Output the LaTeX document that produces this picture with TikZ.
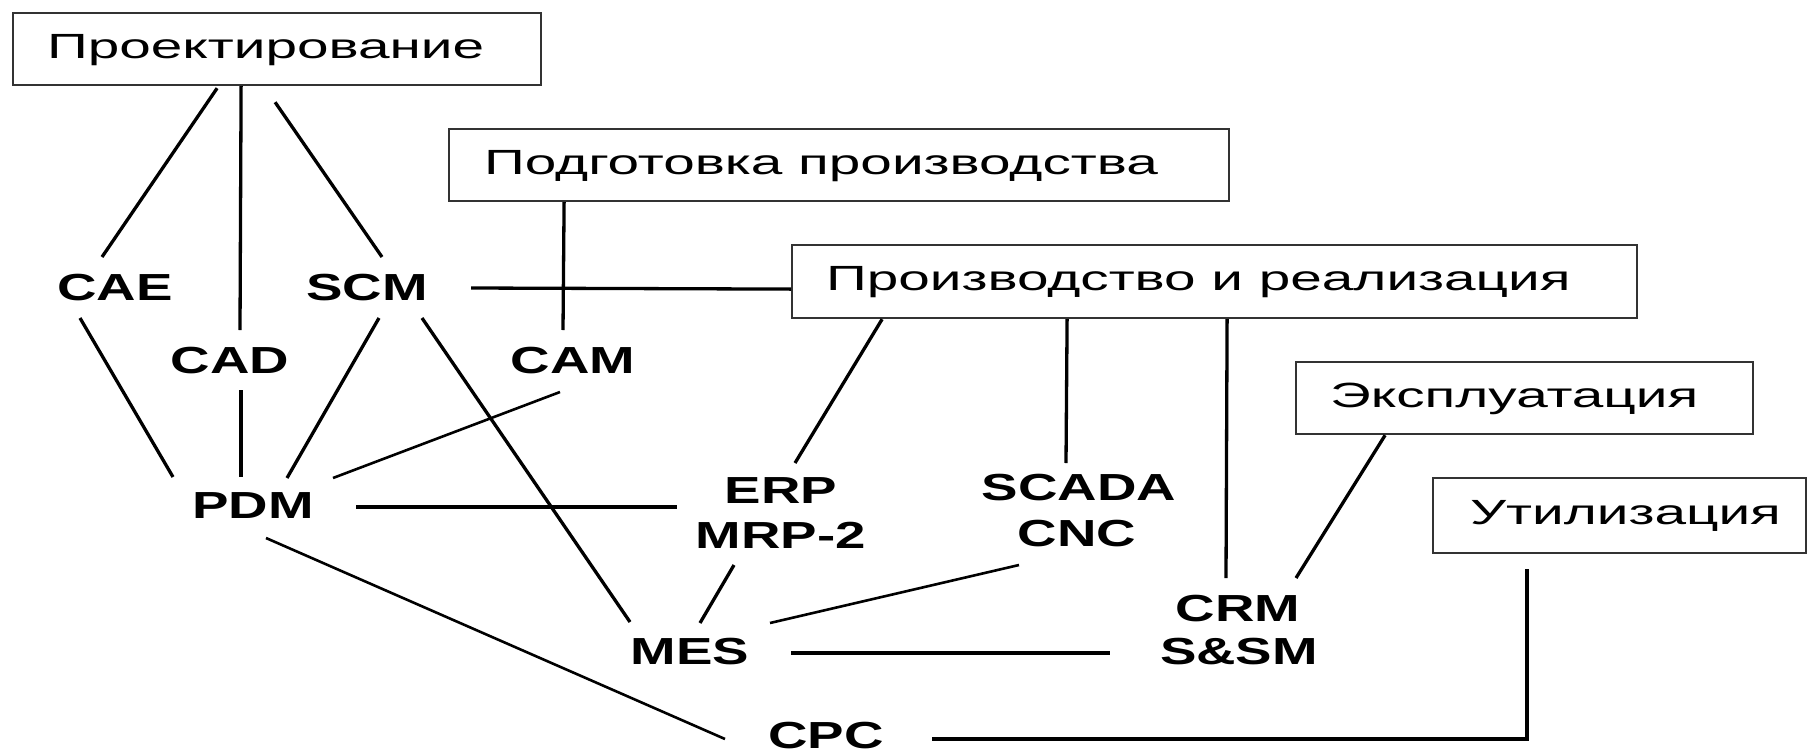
\documentclass[tikz,border=0pt]{standalone}
\usepackage{fontspec}
\setmainfont{Liberation Sans}
\newfontfamily\boxfont{Liberation Sans}[FakeStretch=1.62]
\newfontfamily\lblfont{Liberation Sans}[FakeStretch=1.45]
\usetikzlibrary{calc}
\begin{document}
\begin{tikzpicture}[x=1pt,y=-1pt,
  stage/.style={draw=black!80, line width=2.2pt, anchor=north west,
    font=\boxfont\fontsize{35}{42}\selectfont,
    inner ysep=0pt, text height=25pt, text depth=7pt},
  lbl/.style={font=\lblfont\bfseries\fontsize{37.7}{45}\selectfont,
    inner sep=0pt, text height=27pt, text depth=0pt},
  conn/.style={line width=3.3pt, black}
]
\useasboundingbox[fill=white] (0,0) rectangle (1814,755);

% stage boxes
\node[stage, minimum width=528pt, minimum height=72pt, inner xsep=34pt] (proj) at (12,12) {\makebox[460pt][l]{Проектирование}};
\node[stage, minimum width=780pt, minimum height=72pt, inner xsep=35pt] (prep) at (448,128) {\makebox[710pt][l]{Подготовка производства}};
\node[stage, minimum width=845pt, minimum height=73pt, inner xsep=34pt] (prod) at (791,244) {\makebox[777pt][l]{Производство и реализация}};
\node[stage, minimum width=457pt, minimum height=72pt, inner xsep=34pt] (expl) at (1295,361) {\makebox[389pt][l]{Эксплуатация}};
\node[stage, minimum width=373pt, minimum height=75pt, inner xsep=37pt] (util) at (1432,477) {\makebox[299pt][l]{Утилизация}};

% system labels
\node[lbl] (cae) at (115,287) {CAE};
\node[lbl] (scm) at (367,287) {SCM};
\node[lbl] (cad) at (230,360) {CAD};
\node[lbl] (cam) at (573,360) {CAM};
\node[lbl] (pdm) at (253,505) {PDM};
\node[lbl] (erp) at (781,490) {ERP};
\node[lbl] (mrp) at (781,535) {MRP-2};
\node[lbl] (scada) at (1079,487) {SCADA};
\node[lbl] (cnc) at (1077,533) {CNC};
\node[lbl] (crm) at (1238,608) {CRM};
\node[lbl] (ssm) at (1239,651) {S\&SM};
\node[lbl] (mes) at (690,651) {MES};
\node[lbl] (cpc) at (826,735) {CPC};

% connectors
\draw[conn] ($(proj.south)+(-60,2)$) -- ($(cae)+(-13,-30)$);
\draw[conn] ($(proj.south)+(-36,0)$) -- ($(cad)+(10,-30)$);
\draw[conn] ($(proj.south)+(-2,16)$) -- ($(scm)+(15,-30)$);
\draw[conn] ($(prep.south)+(-275,0)$) -- ($(cam)+(-10,-30)$);
\draw[conn] ($(scm)+(104,1)$) -- ($(prod.west)+(0,7.5)$);
\draw[conn] ($(cae)+(-35,31)$) -- ($(pdm)+(-80,-28)$);
\draw[conn] ($(cad)+(11,30)$) -- ($(pdm)+(-12,-28)$);
\draw[conn] ($(scm)+(12,31)$) -- ($(pdm)+(34,-27)$);
\draw[conn] ($(scm)+(55,31)$) -- ($(mes)+(-60,-29)$);
\draw[conn, line width=2.6pt] ($(cam)+(-13,32)$) -- ($(pdm)+(80,-27)$);
\draw[conn] ($(pdm)+(103,2)$) -- ($(erp)+(-104,17)$);
\draw[conn] ($(prod.south)+(-332.5,0)$) -- ($(erp)+(14,-27)$);
\draw[conn] ($(prod.south)+(-147.5,0)$) -- ($(scada)+(-13,-24)$);
\draw[conn] ($(prod.south)+(12.5,0)$) -- ($(crm)+(-12,-30)$);
\draw[conn] ($(expl.south)+(-139.5,0)$) -- ($(crm)+(58,-30)$);
\draw[conn] ($(mrp)+(-47,30)$) -- ($(mes)+(10,-28)$);
\draw[conn, line width=2.6pt] ($(cnc)+(-58,32)$) -- ($(mes)+(80,-28)$);
\draw[conn] ($(mes)+(101,2)$) -- ($(ssm)+(-129,2)$);
\draw[conn, line width=2.6pt] ($(pdm)+(13,33)$) -- ($(cpc)+(-101,4)$);
\draw[conn] ($(cpc)+(106,4)$) -| ($(util.south)+(-92.5,15)$);
\end{tikzpicture}
\end{document}
